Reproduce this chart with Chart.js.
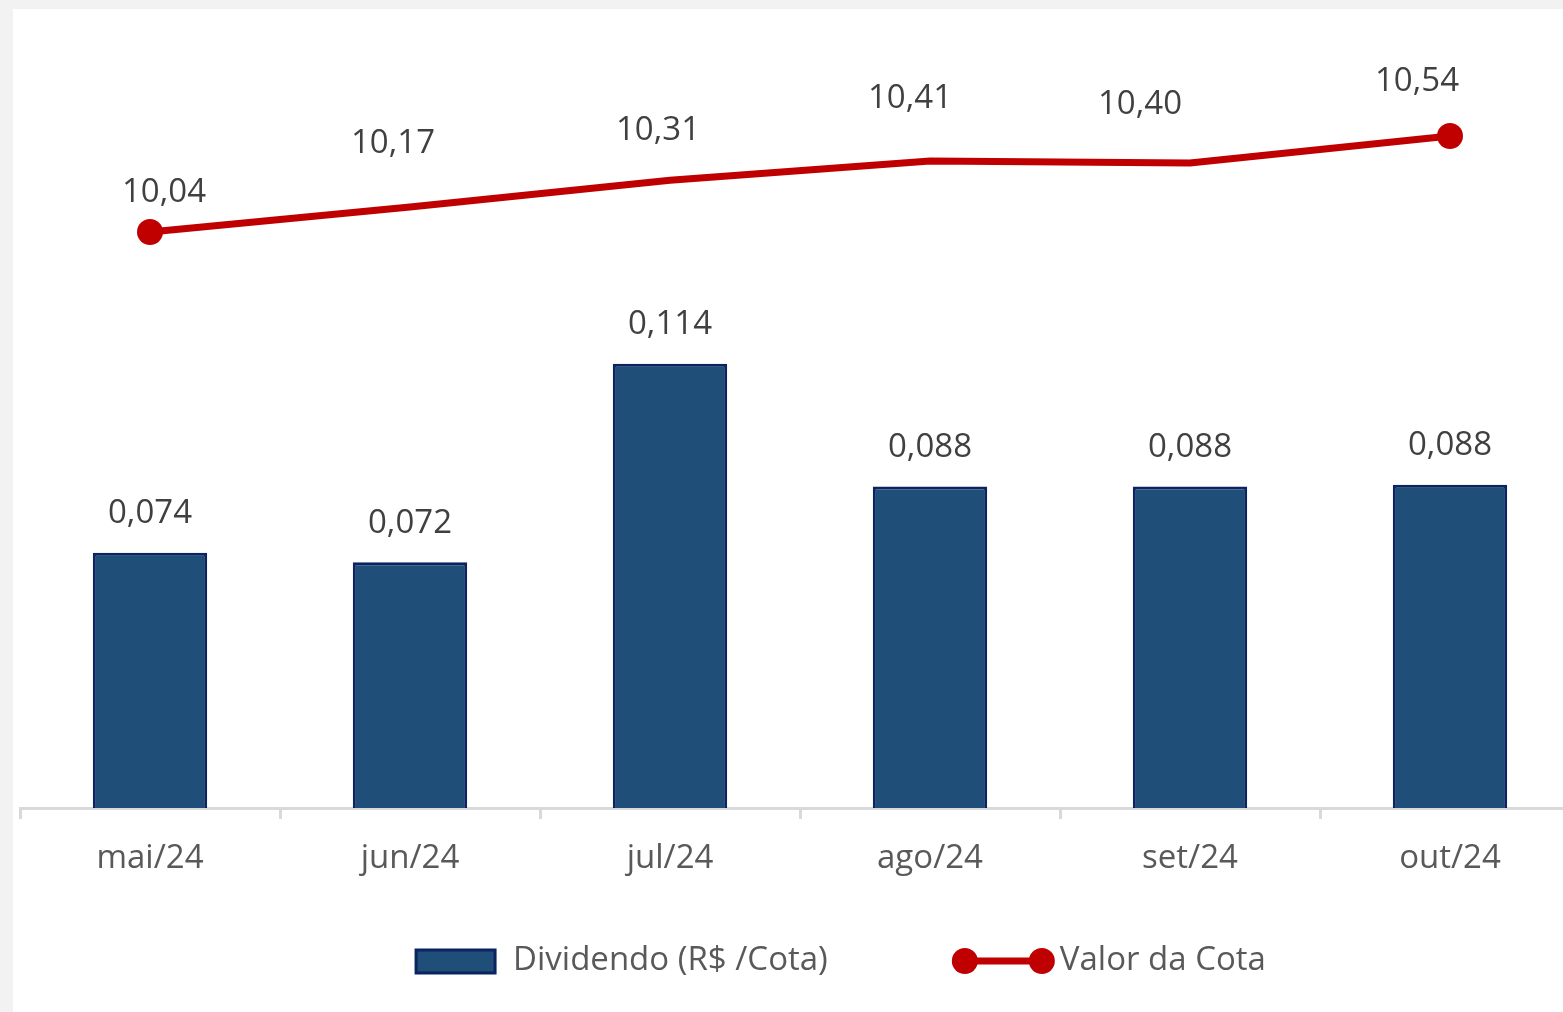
<!DOCTYPE html>
<html>
<head>
<meta charset="utf-8">
<script src="https://cdn.jsdelivr.net/npm/chart.js@4"></script>
<style>
  html, body { margin: 0; padding: 0; background: #F2F2F2; overflow: hidden; }
  #wrap { position: absolute; left: 13px; top: 9px; width: 1550px; height: 1003px; background: #fff; overflow: hidden; }
  canvas { display: block; }
</style>
</head>
<body>
<div id="wrap"><canvas id="chart" width="1567" height="1003"></canvas></div>
<script>
// data
const categories = ["mai/24", "jun/24", "jul/24", "ago/24", "set/24", "out/24"];
const dividendo = [0.074, 0.072, 0.114, 0.088, 0.088, 0.0884];
const valorCota = [10.04, 10.17, 10.31, 10.41, 10.40, 10.54];

// manual nudges of the line labels (like in the original sheet)
const lineLabelShift = [[14, -39], [-17, -63], [-12, -50], [-20, -62], [-50, -58], [-33, -54]];

const FONT = '"Open Sans", "Noto Sans", sans-serif';
const BAR_FILL = "#1F4E79";
const BAR_EDGE = "#0A2361";
const RED = "#C00000";

const fmt = (v, d) => v.toFixed(d).replace(".", ",");

// data labels
const valueLabels = {
  id: "valueLabels",
  afterDatasetsDraw(chart) {
    const ctx = chart.ctx;
    ctx.save();
    ctx.font = "33px " + FONT;
    ctx.fillStyle = "#404040";
    ctx.textAlign = "center";
    ctx.textBaseline = "middle";
    chart.getDatasetMeta(0).data.forEach((bar, i) => {
      ctx.fillText(fmt(dividendo[i], 3), bar.x, bar.y - 39);
    });
    chart.getDatasetMeta(1).data.forEach((pt, i) => {
      const s = lineLabelShift[i];
      ctx.fillText(fmt(valorCota[i], 2), pt.x + s[0], pt.y + s[1]);
    });
    ctx.restore();
  },
};

// legend: box + line with dots at both ends
const customLegend = {
  id: "customLegend",
  afterDraw(chart) {
    const ctx = chart.ctx;
    const y = chart.chartArea.bottom + 153;
    ctx.save();
    ctx.font = "33px " + FONT;
    const t1 = "Dividendo (R$ /Cota)";
    const t2 = "Valor da Cota";
    const w1 = 79 + 18 + ctx.measureText(t1).width;
    const w2 = 103 + 5 + ctx.measureText(t2).width;
    const gap = 124;
    let x = 828 - (w1 + gap + w2) / 2;

    ctx.fillStyle = BAR_FILL;
    ctx.strokeStyle = BAR_EDGE;
    ctx.lineWidth = 3;
    ctx.fillRect(x, y - 11, 79, 23);
    ctx.strokeRect(x, y - 11, 79, 23);
    ctx.fillStyle = "#595959";
    ctx.textBaseline = "middle";
    ctx.fillText(t1, x + 97, y);

    x += w1 + gap;
    ctx.strokeStyle = RED;
    ctx.lineWidth = 7;
    ctx.beginPath();
    ctx.moveTo(x + 13, y);
    ctx.lineTo(x + 90, y);
    ctx.stroke();
    ctx.fillStyle = RED;
    [x + 13, x + 90].forEach((cx) => {
      ctx.beginPath();
      ctx.arc(cx, y, 13, 0, Math.PI * 2);
      ctx.fill();
    });
    ctx.fillStyle = "#595959";
    ctx.fillText(t2, x + 108, y);
    ctx.restore();
  },
};

const last = valorCota.length - 1;

new Chart(document.getElementById("chart"), {
  data: {
    labels: categories,
    datasets: [
      {
        type: "bar",
        label: "Dividendo (R$ /Cota)",
        data: dividendo,
        backgroundColor: BAR_FILL,
        borderColor: BAR_EDGE,
        borderWidth: 3,
        barPercentage: 0.44,
        categoryPercentage: 1,
        yAxisID: "y",
        order: 1,
      },
      {
        type: "line",
        label: "Valor da Cota",
        data: valorCota,
        borderColor: RED,
        borderWidth: 7,
        tension: 0,
        pointRadius: (c) => (c.dataIndex === 0 || c.dataIndex === last ? 13 : 0),
        pointBackgroundColor: RED,
        pointBorderWidth: 0,
        yAxisID: "y1",
        order: 0,
      },
    ],
  },
  options: {
    responsive: false,
    animation: false,
    devicePixelRatio: 1,
    layout: { autoPadding: false, padding: { left: 7, right: 0, top: 31, bottom: 0 } },
    plugins: { legend: { display: false }, tooltip: { enabled: false } },
    scales: {
      x: {
        offset: true,
        grid: { display: true, drawOnChartArea: false, drawTicks: true, tickLength: 11, color: "#D9D9D9", lineWidth: 3 },
        border: { display: true, color: "#D9D9D9", width: 3 },
        ticks: { color: "#595959", font: { family: FONT, size: 33 }, padding: 20, maxRotation: 0 },
        afterFit: (s) => { s.height = 204; },
      },
      y: { display: false, min: 0.02, max: 0.1825 },
      y1: { display: false, position: "right", min: 7.04, max: 11.04 },
    },
  },
  plugins: [valueLabels, customLegend],
});
</script>
</body>
</html>
